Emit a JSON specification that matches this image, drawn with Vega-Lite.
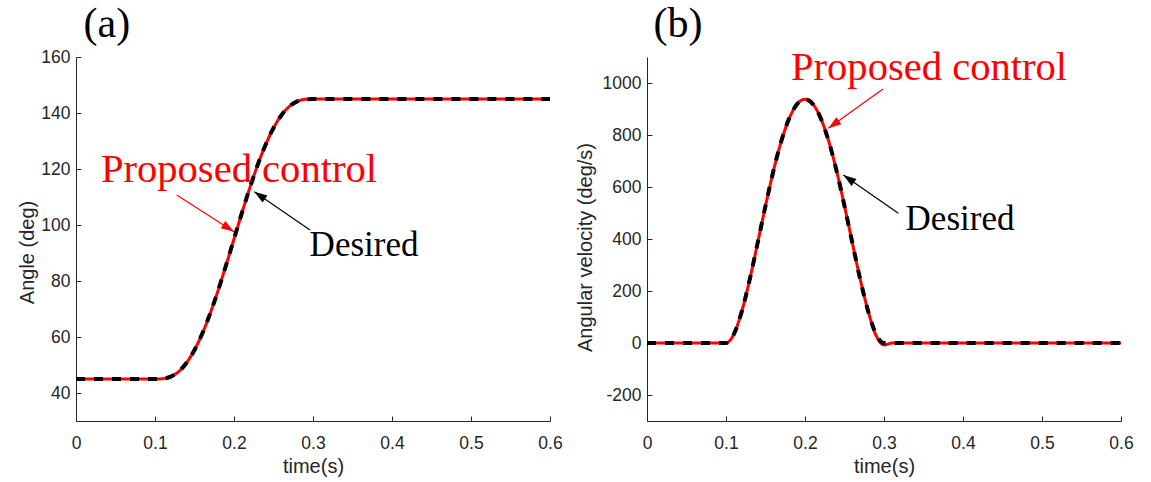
{
  "$schema": "https://vega.github.io/schema/vega-lite/v6.json",
  "padding": {"left": 17, "top": 3, "right": 5, "bottom": 5},
  "background": "white",
  "bounds": "flush",
  "spacing": 97,
  "config": {
    "view": {"stroke": null},
    "axis": {
      "domainColor": "#262626", "tickColor": "#262626", "labelColor": "#262626", "titleColor": "#262626",
      "labelFont": "Liberation Sans", "titleFont": "Liberation Sans", "labelFontSize": 17.5, "titleFontSize": 20,
      "titleFontWeight": "normal", "grid": false, "tickSize": -5, "domainWidth": 1, "tickWidth": 1,
      "labelFlush": false, "labelOverlap": false, "labelExpr": "'' + datum.value"
    },
    "axisX": {"labelPadding": 18, "titleAnchor": "middle", "titleY": 51, "titleBaseline": "alphabetic", "titleAlign": "center"},
    "axisY": {"labelPadding": 11, "titleBaseline": "alphabetic", "titleAlign": "center"}
  },
  "datasets": {
    "traj": [
      {"series": "Proposed control", "t": 0, "angle": 45, "vel": 0},
      {"series": "Proposed control", "t": 0.05, "angle": 45, "vel": 0},
      {"series": "Proposed control", "t": 0.1, "angle": 45, "vel": 0},
      {"series": "Proposed control", "t": 0.11, "angle": 45.12, "vel": 33.8},
      {"series": "Proposed control", "t": 0.12, "angle": 45.86, "vel": 121.5},
      {"series": "Proposed control", "t": 0.13, "angle": 47.66, "vel": 243.8},
      {"series": "Proposed control", "t": 0.14, "angle": 50.79, "vel": 384},
      {"series": "Proposed control", "t": 0.15, "angle": 55.35, "vel": 527.3},
      {"series": "Proposed control", "t": 0.16, "angle": 61.31, "vel": 661.5},
      {"series": "Proposed control", "t": 0.17, "angle": 68.52, "vel": 776.3},
      {"series": "Proposed control", "t": 0.18, "angle": 76.74, "vel": 864},
      {"series": "Proposed control", "t": 0.19, "angle": 85.69, "vel": 918.8},
      {"series": "Proposed control", "t": 0.2, "angle": 95, "vel": 937.5},
      {"series": "Proposed control", "t": 0.21, "angle": 104.31, "vel": 918.8},
      {"series": "Proposed control", "t": 0.22, "angle": 113.26, "vel": 864},
      {"series": "Proposed control", "t": 0.23, "angle": 121.48, "vel": 776.3},
      {"series": "Proposed control", "t": 0.24, "angle": 128.69, "vel": 661.5},
      {"series": "Proposed control", "t": 0.25, "angle": 134.65, "vel": 527.3},
      {"series": "Proposed control", "t": 0.26, "angle": 139.21, "vel": 384},
      {"series": "Proposed control", "t": 0.27, "angle": 142.34, "vel": 243.8},
      {"series": "Proposed control", "t": 0.28, "angle": 144.14, "vel": 121.5},
      {"series": "Proposed control", "t": 0.29, "angle": 144.88, "vel": 28},
      {"series": "Proposed control", "t": 0.3, "angle": 145, "vel": -8},
      {"series": "Proposed control", "t": 0.31, "angle": 145, "vel": 0},
      {"series": "Proposed control", "t": 0.4, "angle": 145, "vel": 0},
      {"series": "Proposed control", "t": 0.5, "angle": 145, "vel": 0},
      {"series": "Proposed control", "t": 0.6, "angle": 145, "vel": 0},
      {"series": "Desired", "t": 0, "angle": 45, "vel": 0},
      {"series": "Desired", "t": 0.05, "angle": 45, "vel": 0},
      {"series": "Desired", "t": 0.1, "angle": 45, "vel": 0},
      {"series": "Desired", "t": 0.11, "angle": 45.12, "vel": 33.8},
      {"series": "Desired", "t": 0.12, "angle": 45.86, "vel": 121.5},
      {"series": "Desired", "t": 0.13, "angle": 47.66, "vel": 243.8},
      {"series": "Desired", "t": 0.14, "angle": 50.79, "vel": 384},
      {"series": "Desired", "t": 0.15, "angle": 55.35, "vel": 527.3},
      {"series": "Desired", "t": 0.16, "angle": 61.31, "vel": 661.5},
      {"series": "Desired", "t": 0.17, "angle": 68.52, "vel": 776.3},
      {"series": "Desired", "t": 0.18, "angle": 76.74, "vel": 864},
      {"series": "Desired", "t": 0.19, "angle": 85.69, "vel": 918.8},
      {"series": "Desired", "t": 0.2, "angle": 95, "vel": 937.5},
      {"series": "Desired", "t": 0.21, "angle": 104.31, "vel": 918.8},
      {"series": "Desired", "t": 0.22, "angle": 113.26, "vel": 864},
      {"series": "Desired", "t": 0.23, "angle": 121.48, "vel": 776.3},
      {"series": "Desired", "t": 0.24, "angle": 128.69, "vel": 661.5},
      {"series": "Desired", "t": 0.25, "angle": 134.65, "vel": 527.3},
      {"series": "Desired", "t": 0.26, "angle": 139.21, "vel": 384},
      {"series": "Desired", "t": 0.27, "angle": 142.34, "vel": 243.8},
      {"series": "Desired", "t": 0.28, "angle": 144.14, "vel": 121.5},
      {"series": "Desired", "t": 0.29, "angle": 144.88, "vel": 33.8},
      {"series": "Desired", "t": 0.3, "angle": 145, "vel": 0},
      {"series": "Desired", "t": 0.4, "angle": 145, "vel": 0},
      {"series": "Desired", "t": 0.5, "angle": 145, "vel": 0},
      {"series": "Desired", "t": 0.6, "angle": 145, "vel": 0}
    ],
    "notes": [
      {"panel": "a", "kind": "tag", "text": "(a)", "t": 0.039, "v": 167.1},
      {"panel": "a", "kind": "Proposed control", "text": "Proposed control", "t": 0.2063, "v": 115.4},
      {"panel": "a", "kind": "Desired", "text": "Desired", "t": 0.3646, "v": 88.9},
      {"panel": "b", "kind": "tag", "text": "(b)", "t": 0.0392, "v": 1176.9},
      {"panel": "b", "kind": "Proposed control", "text": "Proposed control", "t": 0.357, "v": 1011.5},
      {"panel": "b", "kind": "Desired", "text": "Desired", "t": 0.3962, "v": 434.6}
    ],
    "arrows": [
      {"panel": "a", "target": "Proposed control", "t1": 0.1275, "v1": 110.7, "t2": 0.2, "v2": 97.6},
      {"panel": "a", "target": "Desired", "t1": 0.2962, "v1": 98.2, "t2": 0.2257, "v2": 111.9},
      {"panel": "b", "target": "Proposed control", "t1": 0.2987, "v1": 977, "t2": 0.2295, "v2": 826},
      {"panel": "b", "target": "Desired", "t1": 0.3181, "v1": 499, "t2": 0.2485, "v2": 646}
    ]
  },
  "hconcat": [
    {
      "width": 474, "height": 364,
      "layer": [
        {
          "data": {"name": "traj"},
          "transform": [{"filter": "datum.series === 'Proposed control'"}],
          "mark": {"type": "line", "color": "#ff0000", "strokeWidth": 3, "interpolate": "monotone"},
          "encoding": {
            "x": {"field": "t", "type": "quantitative", "scale": {"domain": [0, 0.6], "nice": false, "zero": false},
                  "axis": {"values": [0, 0.1, 0.2, 0.3, 0.4, 0.5, 0.6], "title": "time(s)", "titleX": 237}},
            "y": {"field": "angle", "type": "quantitative", "scale": {"domain": [30, 160], "nice": false, "zero": false},
                  "axis": {"values": [40, 60, 80, 100, 120, 140, 160], "title": "Angle (deg)", "titleX": -43, "titleY": 195}}
          }
        },
        {
          "data": {"name": "traj"},
          "transform": [{"filter": "datum.series === 'Desired'"}],
          "mark": {"type": "line", "color": "#000000", "strokeWidth": 4, "strokeDash": [9, 9], "interpolate": "monotone"},
          "encoding": {
            "x": {"field": "t", "type": "quantitative"},
            "y": {"field": "angle", "type": "quantitative"}
          }
        },
        {
          "data": {"name": "arrows"},
          "transform": [{"filter": "datum.panel === 'a'"}],
          "mark": {"type": "rule", "strokeWidth": 1.2},
          "encoding": {
            "x": {"field": "t1", "type": "quantitative"},
            "y": {"field": "v1", "type": "quantitative"},
            "x2": {"field": "t2"},
            "y2": {"field": "v2"},
            "color": {"field": "target", "type": "nominal", "scale": {"domain": ["Proposed control", "Desired"], "range": ["#ff0000", "#000000"]}, "legend": null}
          }
        },
        {
          "data": {"name": "arrows"},
          "transform": [
            {"filter": "datum.panel === 'a'"},
            {"calculate": "atan2((datum.t2 - datum.t1) * 790, (datum.v2 - datum.v1) * 2.8) * 180 / PI", "as": "dir"}
          ],
          "mark": {"type": "point", "shape": "M0,0 L0.33,1 L-0.33,1 Z", "filled": true, "opacity": 1, "size": 676, "strokeWidth": 0},
          "encoding": {
            "x": {"field": "t2", "type": "quantitative"},
            "y": {"field": "v2", "type": "quantitative"},
            "angle": {"field": "dir", "type": "quantitative", "scale": null},
            "color": {"field": "target", "type": "nominal", "scale": {"domain": ["Proposed control", "Desired"], "range": ["#ff0000", "#000000"]}, "legend": null}
          }
        },
        {
          "data": {"name": "notes"},
          "transform": [{"filter": "datum.panel === 'a' && datum.kind === 'tag'"}],
          "mark": {"type": "text", "font": "Liberation Serif", "fontSize": 42, "color": "#000000", "align": "center", "baseline": "alphabetic"},
          "encoding": {
            "x": {"field": "t", "type": "quantitative"},
            "y": {"field": "v", "type": "quantitative"},
            "text": {"field": "text"}
          }
        },
        {
          "data": {"name": "notes"},
          "transform": [{"filter": "datum.panel === 'a' && datum.kind === 'Proposed control'"}],
          "mark": {"type": "text", "font": "Liberation Serif", "fontSize": 40.6, "color": "#ff0000", "align": "center", "baseline": "alphabetic"},
          "encoding": {
            "x": {"field": "t", "type": "quantitative"},
            "y": {"field": "v", "type": "quantitative"},
            "text": {"field": "text"}
          }
        },
        {
          "data": {"name": "notes"},
          "transform": [{"filter": "datum.panel === 'a' && datum.kind === 'Desired'"}],
          "mark": {"type": "text", "font": "Liberation Serif", "fontSize": 35, "color": "#000000", "align": "center", "baseline": "alphabetic"},
          "encoding": {
            "x": {"field": "t", "type": "quantitative"},
            "y": {"field": "v", "type": "quantitative"},
            "text": {"field": "text"}
          }
        }
      ]
    },
    {
      "width": 474, "height": 364,
      "layer": [
        {
          "data": {"name": "traj"},
          "transform": [{"filter": "datum.series === 'Proposed control'"}],
          "mark": {"type": "line", "color": "#ff0000", "strokeWidth": 3, "interpolate": "monotone"},
          "encoding": {
            "x": {"field": "t", "type": "quantitative", "scale": {"domain": [0, 0.6], "nice": false, "zero": false},
                  "axis": {"values": [0, 0.1, 0.2, 0.3, 0.4, 0.5, 0.6], "title": "time(s)", "titleX": 237}},
            "y": {"field": "vel", "type": "quantitative", "scale": {"domain": [-300, 1100], "nice": false, "zero": false},
                  "axis": {"values": [-200, 0, 200, 400, 600, 800, 1000], "title": "Angular velocity (deg/s)", "titleX": -56, "titleY": 190}}
          }
        },
        {
          "data": {"name": "traj"},
          "transform": [{"filter": "datum.series === 'Desired'"}],
          "mark": {"type": "line", "color": "#000000", "strokeWidth": 4, "strokeDash": [9, 9], "interpolate": "monotone"},
          "encoding": {
            "x": {"field": "t", "type": "quantitative"},
            "y": {"field": "vel", "type": "quantitative"}
          }
        },
        {
          "data": {"name": "arrows"},
          "transform": [{"filter": "datum.panel === 'b'"}],
          "mark": {"type": "rule", "strokeWidth": 1.2},
          "encoding": {
            "x": {"field": "t1", "type": "quantitative"},
            "y": {"field": "v1", "type": "quantitative"},
            "x2": {"field": "t2"},
            "y2": {"field": "v2"},
            "color": {"field": "target", "type": "nominal", "scale": {"domain": ["Proposed control", "Desired"], "range": ["#ff0000", "#000000"]}, "legend": null}
          }
        },
        {
          "data": {"name": "arrows"},
          "transform": [
            {"filter": "datum.panel === 'b'"},
            {"calculate": "atan2((datum.t2 - datum.t1) * 790, (datum.v2 - datum.v1) * 0.26) * 180 / PI", "as": "dir"}
          ],
          "mark": {"type": "point", "shape": "M0,0 L0.33,1 L-0.33,1 Z", "filled": true, "opacity": 1, "size": 676, "strokeWidth": 0},
          "encoding": {
            "x": {"field": "t2", "type": "quantitative"},
            "y": {"field": "v2", "type": "quantitative"},
            "angle": {"field": "dir", "type": "quantitative", "scale": null},
            "color": {"field": "target", "type": "nominal", "scale": {"domain": ["Proposed control", "Desired"], "range": ["#ff0000", "#000000"]}, "legend": null}
          }
        },
        {
          "data": {"name": "notes"},
          "transform": [{"filter": "datum.panel === 'b' && datum.kind === 'tag'"}],
          "mark": {"type": "text", "font": "Liberation Serif", "fontSize": 42, "color": "#000000", "align": "center", "baseline": "alphabetic"},
          "encoding": {
            "x": {"field": "t", "type": "quantitative"},
            "y": {"field": "v", "type": "quantitative"},
            "text": {"field": "text"}
          }
        },
        {
          "data": {"name": "notes"},
          "transform": [{"filter": "datum.panel === 'b' && datum.kind === 'Proposed control'"}],
          "mark": {"type": "text", "font": "Liberation Serif", "fontSize": 40.6, "color": "#ff0000", "align": "center", "baseline": "alphabetic"},
          "encoding": {
            "x": {"field": "t", "type": "quantitative"},
            "y": {"field": "v", "type": "quantitative"},
            "text": {"field": "text"}
          }
        },
        {
          "data": {"name": "notes"},
          "transform": [{"filter": "datum.panel === 'b' && datum.kind === 'Desired'"}],
          "mark": {"type": "text", "font": "Liberation Serif", "fontSize": 35, "color": "#000000", "align": "center", "baseline": "alphabetic"},
          "encoding": {
            "x": {"field": "t", "type": "quantitative"},
            "y": {"field": "v", "type": "quantitative"},
            "text": {"field": "text"}
          }
        }
      ]
    }
  ]
}
